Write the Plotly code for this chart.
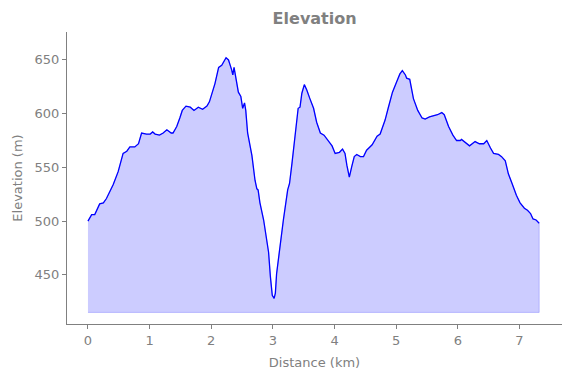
import plotly.graph_objects as go

distance_km = [0.00, 0.06, 0.11, 0.19, 0.25, 0.30, 0.41, 0.49, 0.57, 0.63, 0.68, 0.76, 0.82, 0.87,
               0.95, 1.01, 1.05, 1.09, 1.16, 1.22, 1.28, 1.35, 1.38, 1.44, 1.49, 1.53, 1.59, 1.66,
               1.72, 1.79, 1.86, 1.93, 1.97, 2.03, 2.06, 2.12, 2.17, 2.24, 2.28, 2.33, 2.35, 2.37,
               2.40, 2.44, 2.48, 2.51, 2.54, 2.56, 2.59, 2.64, 2.66, 2.71, 2.74, 2.76, 2.79, 2.85,
               2.90, 2.93, 2.96, 2.99, 3.02, 3.04, 3.06, 3.12, 3.17, 3.24, 3.27, 3.31, 3.36, 3.41,
               3.44, 3.47, 3.51, 3.55, 3.60, 3.66, 3.71, 3.77, 3.83, 3.90, 3.96, 4.01, 4.08, 4.13,
               4.17, 4.20, 4.24, 4.28, 4.32, 4.36, 4.42, 4.47, 4.52, 4.61, 4.69, 4.74, 4.82, 4.87,
               4.94, 5.01, 5.06, 5.10, 5.15, 5.17, 5.22, 5.28, 5.35, 5.42, 5.47, 5.54, 5.61, 5.67,
               5.74, 5.78, 5.85, 5.92, 5.98, 6.04, 6.06, 6.12, 6.19, 6.28, 6.35, 6.42, 6.47, 6.53,
               6.58, 6.66, 6.71, 6.77, 6.82, 6.88, 6.95, 7.01, 7.08, 7.13, 7.18, 7.22, 7.27, 7.32]
elevation_m = [500, 506, 506, 516, 517, 521, 534, 546, 563, 565, 569, 569, 572, 582,
               581, 581, 583, 581, 580, 582, 585, 582, 582, 588, 596, 603, 607, 606,
               603, 606, 604, 607, 611, 622, 628, 643, 645, 652, 650, 641, 636, 643,
               634, 620, 616, 605, 610, 603, 582, 569, 561, 538, 530, 529, 517, 501,
               479, 471, 448, 431, 428, 433, 451, 479, 501, 529, 535, 554, 582, 605,
               606, 619, 627, 622, 614, 605, 592, 582, 580, 574, 570, 563, 564, 567,
               563, 552, 541, 551, 560, 562, 560, 560, 566, 571, 579, 581, 594, 605,
               620, 630, 637, 640, 636, 633, 632, 614, 603, 596, 595, 597, 598, 599,
               601, 599, 588, 580, 575, 575, 576, 573, 570, 574, 572, 572, 575, 568,
               563, 562, 560, 556, 544, 535, 524, 517, 512, 510, 507, 502, 501, 498]
fill_base_m = 415
x_ticks = [0, 1, 2, 3, 4, 5, 6, 7]
y_ticks = [450, 500, 550, 600, 650]

GRAY = "#808080"
FONT = "DejaVu Sans"

poly_x = distance_km + distance_km[::-1]
poly_y = elevation_m + [fill_base_m] * len(distance_km)

fig = go.Figure()
fig.add_trace(go.Scatter(x=poly_x, y=poly_y, fill="toself", mode="lines",
                         fillcolor="rgba(0,0,255,0.2)",
                         line=dict(color="rgba(0,0,255,0.2)", width=1),
                         hoverinfo="skip", showlegend=False))
fig.add_trace(go.Scatter(x=distance_km, y=elevation_m, mode="lines",
                         line=dict(color="blue", width=1.3), showlegend=False))

fig.update_layout(
    width=571, height=378,
    margin=dict(l=67, r=9, t=32, b=54),
    paper_bgcolor="white", plot_bgcolor="white",
    font=dict(family=FONT, color=GRAY, size=13),
    title=dict(text="<b>Elevation</b>", x=0.551, xanchor="center", y=0.952, yanchor="middle",
               font=dict(family=FONT, size=16, color=GRAY)),
    xaxis=dict(range=[-0.34, 7.69], tickvals=x_ticks, showgrid=False, zeroline=False,
               showline=True, linecolor=GRAY, linewidth=1, ticks="outside", ticklen=4,
               tickcolor=GRAY, mirror=False,
               title=dict(text="Distance (km)", font=dict(size=13, color=GRAY), standoff=11)),
    yaxis=dict(range=[404.2, 676], tickvals=y_ticks, showgrid=False, zeroline=False,
               showline=True, linecolor=GRAY, linewidth=1, ticks="outside", ticklen=4,
               tickcolor=GRAY, mirror=False,
               title=dict(text="Elevation (m)", font=dict(size=13, color=GRAY), standoff=9)),
)

fig.write_html("out.html")
